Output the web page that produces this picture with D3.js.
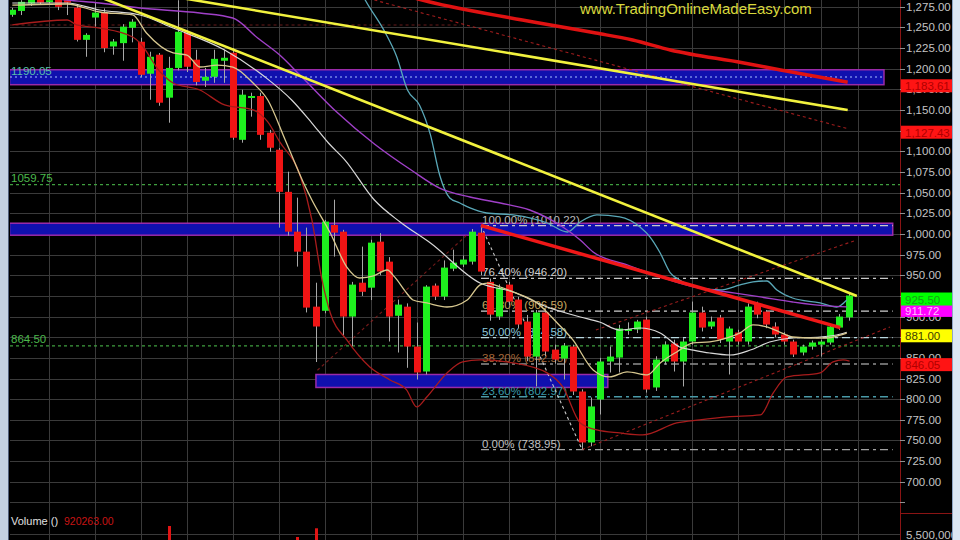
<!DOCTYPE html>
<html><head><meta charset="utf-8">
<script src="https://cdn.jsdelivr.net/npm/d3@7"></script>
<style>
html,body{margin:0;padding:0;background:#000;overflow:hidden}
svg{display:block}
text{font-family:"Liberation Sans",Arial,sans-serif}
</style></head><body>
<svg id="c" width="960" height="540"></svg>
<script>
// ---------- DATA ----------
const opens  = [1265.3,1270,1279,1284,1282,1284,1283,1274,1235,1262,1268,1227,1231,1249.6,1232.7,1194,1217,1165,1201,1243.6,1211,1185.5,1190.3,1209.7,1219.4,1114,1166,1167,1122.6,1102,1051,1002.8,978.6,912,907,1011,1002.8,900,941,935,990.7,966.5,901,912,863.7,833.5,937.5,924.2,958,963,966.5,1001.6,942,900,938.7,920.6,894,851.6,904.9,860,849.2,863.7,809.3,747.6,799.6,845.6,850.4,883,884.3,896.4,814.2,845.6,867.4,845.6,869.8,904.9,888,898.8,869.8,880.7,869.8,914.5,906,888,878.3,869.8,856.5,863.7,866,868.6,886.7,899];
const highs  = [1273.8,1283,1290,1288,1288,1288,1287,1278,1243,1280,1273,1236,1254,1260,1237.5,1220.6,1219,1214.5,1283,1246,1223,1201,1223,1223,1225,1174.6,1171,1171,1126,1104,1075.4,1044,1007.7,941,1017,1041.5,1005,942,984.7,993,1001,972,920.6,916,892.8,938,940,968,981,974,1006,1010.22,946,939,942,924,902,908,909,866,868,866,812,802.1,850,863.7,890,893,896,900,852,870,872,874,918.2,912,900,902,888,884,916,918,908,893,881,872,866,871,872,890,903,928];
const lows   = [1262.9,1265,1276,1278,1279,1271,1265,1233,1214.5,1251,1220,1217,1209.7,1232,1190,1162.5,1155.2,1134.7,1198,1196,1180,1178,1183,1183,1114,1110.5,1142,1114,1099.6,1007.7,998,960.5,905,845,904,972.6,876,864,925,920,950,869.8,856.5,838,823.8,829.9,920,920,955,960,963,950,895,896,914,886,846,815.4,852,843,823.8,805,738.95,743,781.5,832.3,832.3,878,880,808,810,842,833.5,815.4,866,882,885,868,829.9,866,866,898,886,875,866,851,853,860,851.6,866,884,895];
const closes = [1271.4,1281,1286,1280,1283,1275,1280,1235,1241,1268,1225,1233,1251,1257,1192.7,1214.5,1158.9,1201,1244.8,1202.4,1184,1190.3,1212,1213.3,1116.5,1168.6,1167,1120,1104.4,1051,1002.8,978.6,910.9,888,1015,1001.6,900,938.7,930,989.5,954.5,900,914.5,863.7,832.3,936.3,924.2,959.3,965.3,969,1002.8,954.5,902.4,935,918.2,890.4,851.6,904.9,857.7,848,864.9,809.3,747.6,791.2,845.6,851.6,885.5,885,894,811.7,848,866.2,845.6,869.8,904.9,886.7,894,872.2,885.5,869.8,912.1,902.4,890.4,878.3,869.8,854.1,863.7,868.6,869.8,887.9,900,925.5];
const volumes = [3.1e6,2.8e6,2.6e6,2.9e6,2.4e6,3.3e6,2.7e6,4.1e6,3.6e6,3.0e6,4.2e6,3.4e6,3.7e6,3.2e6,4.4e6,4.0e6,4.6e6,6.15e6,4.3e6,3.9e6,3.8e6,3.1e6,3.5e6,2.9e6,4.7e6,4.1e6,3.3e6,4.0e6,3.6e6,4.8e6,4.9e6,5.43e6,4.9e6,6.0e6,4.6e6,3.8e6,4.5e6,3.9e6,3.4e6,3.7e6,3.5e6,4.0e6,3.6e6,4.2e6,4.3e6,4.4e6,3.0e6,3.3e6,2.8e6,2.6e6,3.2e6,3.5e6,3.9e6,3.4e6,3.0e6,3.6e6,4.1e6,4.2e6,3.8e6,3.3e6,3.5e6,4.3e6,4.8e6,4.5e6,4.0e6,3.2e6,3.6e6,2.5e6,3.0e6,4.2e6,3.9e6,3.1e6,3.3e6,3.5e6,3.4e6,3.0e6,2.7e6,3.1e6,3.2e6,2.9e6,3.3e6,2.8e6,3.0e6,2.6e6,2.7e6,3.1e6,2.9e6,2.5e6,2.4e6,3.0e6,3.2e6,920263];
const priceTicks = d3.range(700, 1276, 25);
const hiddenTickLabels = [1125, 925];
const gridIdx = [4,9,14,19,24,29,34,39,44,49,54,59,64,69,74,79,84,88,92];

// indicator lines: [candle index, price]
const maFast  = [[0,1277],[5.95,1278.4],[9.5,1268.7],[13.1,1265.1],[14.6,1243.3],[17.5,1219.1],[19,1216.6],[20.4,1202.1],[22.3,1204.5],[24,1202.1],[26.2,1182.7],[27.8,1162.2],[29.7,1113.8],[31.9,1056.8],[32.6,1041.1],[34.6,1001.1],[36.4,960],[37.8,946.7],[39.3,949.2],[40.8,956.4],[41.6,948],[42.9,928.6],[43.6,920.1],[45.1,916.5],[47.3,911.6],[49.5,920.1],[50.9,938.3],[51.7,940.6],[53.1,935.8],[54.5,929.8],[57.1,916.5],[59.3,892.3],[61,871.7],[63.2,835.4],[65,826.9],[66.9,833],[69.1,829.4],[70.5,843.9],[72.3,857.2],[74.1,868.1],[75.9,869.3],[77.8,874.1],[79.2,880.2],[80.6,889.9],[82.1,887.4],[83.5,881.3],[84.9,875.3],[87.1,874.1],[88.6,874.1],[90.1,877.7],[90.8,880.1]];
const maSlow  = [[0,1279.6],[5.95,1279.6],[9.5,1271.1],[13.9,1265.1],[17.5,1249.3],[23.1,1222.7],[27.5,1190],[30.4,1162.2],[32.6,1134.3],[34.4,1110.1],[36.2,1089.5],[39.4,1041.1],[42.2,1014.5],[45.5,989],[50.9,940.6],[54.5,929.8],[58.2,911.6],[61.8,899.5],[63.9,893.4],[66.1,883.7],[68.3,886.2],[70.5,880.1],[72.6,863.2],[74.1,859.5],[75.9,855.9],[78.1,853.5],[80.3,859.5],[82.4,869.2],[84.9,874.1],[87.9,875.3],[89.7,877.7],[90.8,881]];
const maPurple = [[0,1292],[5.95,1283.2],[9.5,1279.6],[13.9,1273.5],[20.4,1267.5],[24,1261.4],[26.7,1237.2],[29.1,1216.6],[31.3,1192.4],[35.3,1147.6],[39.4,1108.9],[43.4,1077.4],[46.5,1055.6],[49.8,1044.7],[53.1,1037.5],[56.3,1029],[59.9,1008.4],[61.8,992.7],[63.2,978.2],[66.9,962.5],[70.5,948],[74.1,935.9],[77.8,929.8],[81.4,923.8],[84.9,917.7],[88.6,912.9],[90.8,911.72]];
const bandUpper = [[37.3,1307],[38.4,1283.2],[40.6,1243.3],[41.8,1215.4],[43,1174.3],[44.3,1156.2],[45.5,1119.9],[46.5,1071.4],[47.6,1043.6],[48.7,1037.5],[49.8,1031.5],[51.6,1025.4],[54.5,1023],[58.2,1013.3],[60.4,1002.4],[61.8,1014.5],[63.6,1023],[66.1,1020.6],[68.3,1008.4],[69.4,996.3],[70.5,977],[71.6,952.8],[72.6,944.3],[74.8,934.6],[77,932.2],[79.2,938.3],[80.6,941.9],[82.1,943.1],[83.2,932.2],[84.9,922.5],[87.9,916.5],[89.7,911.6],[90.8,920.1]];
const bandLower = [[0,1253],[6,1259],[7,1253],[9.5,1249.3],[13.1,1238.4],[13.9,1231.2],[16.1,1196],[17.5,1182.7],[20.4,1174.3],[23.1,1156.2],[26.2,1150.1],[27.8,1135.6],[29.1,1111.4],[31.3,1071.4],[32.6,1017],[33.7,944.3],[34.6,904.4],[36.4,871.7],[38.9,839],[41.1,823.3],[42.9,811.2],[44,790.6],[45.1,802.7],[47.3,831.8],[49,845.1],[50.9,847.5],[54.5,843.9],[58.2,831.8],[59.9,814.8],[61.8,771.2],[63.6,762.8],[66.1,759.1],[68.6,756.7],[72.3,771.2],[74.8,774.9],[77.8,778.5],[81.4,780.9],[82.8,807.6],[84.3,826.9],[87.9,831.8],[89.3,845.1],[90.4,847.5],[91.1,846.05]];
const maLong = [[40,1298],[44.6,1283.2],[55.5,1259],[63.5,1243.3],[67.5,1234.8],[71.6,1222.7],[79.6,1207],[83.6,1198.5],[90.9,1183.61]];

// trend lines [index, price]
const yellowUpper = [[18,1286.4],[90.9,1150]];
const yellowLower = [[8.8,1290],[91.9,925]];
const redDashUpper = [[39.4,1283.2],[90.9,1127.4]];
const redDashHoriz = [[-0.3,1253],[48.7,1253]];
const redDashLeft = [[33.2,835],[49.8,1002]];
const channelUpper = [[63.5,883.8],[91.9,992.8]];
const channelLower = [[62,738.95],[95.5,887.4]];
const redTrend = [[51,1010.22],[90.1,886.7]];
const fibDiag = [[51,1010.22],[62,738.95]];

// zones [top price, bottom price, start index, end index]
const zones = [[1198.8,1180.7,-0.3,94.85],[1013,998.5,-0.3,95.8],[829.9,814.2,33.04,64.8]];
const zoneMid = [1190.05];
const greenLevels = [1059.75, 864.50];
const greenLabels = ["1059.75","864.50"];

// fibonacci
const fibPct = ["100.00%","76.40%","61.80%","50.00%","38.20%","23.60%","0.00%"];
const fibVal = [1010.22,946.20,906.59,874.58,842.58,802.97,738.95];
const fibColor = ["#b8b8b8","#d0d0d0","#c8a860","#8cc8d8","#a86a3a","#3a9aaa","#c0c0c0"];
const fibLineColor = ["#c8c8c8","#c8c8c8","#d0d0d0","#b8d8e0","#909090","#4a9aa8","#a0a0a0"];

// right-side price markers
const markVal = [1183.61,1127.43,881.00,846.05,911.72,925.50];
const markBg  = ["#ff1414","#ff1414","#ffff00","#ff1414","#ff00ff","#00ff00"];
const markFg  = ["#b00000","#b00000","#404000","#b00000","#ffc0ff","#18a018"];

// ---------- DRAW ----------
const svg = d3.select('#c');
const x = d3.scaleLinear().domain([0,91]).range([12.3,848.6]);
const y = d3.scaleLinear().domain([1275,700]).range([6.8,481.8]);
const yv = d3.scaleLinear().domain([0,7e6]).range([620,513]);

svg.append('rect').attr('width',960).attr('height',540).attr('fill','#000');
const defs = svg.append('defs');
defs.append('clipPath').attr('id','cp').append('rect').attr('x',10).attr('y',0).attr('width',890).attr('height',512);
defs.append('clipPath').attr('id','cv').append('rect').attr('x',10).attr('y',513).attr('width',890).attr('height',27);

// grid
const grid = svg.append('g');
grid.selectAll('line.v').data(gridIdx).join('line')
  .attr('x1',d=>Math.round(x(d))+0.5).attr('x2',d=>Math.round(x(d))+0.5)
  .attr('y1',0).attr('y2',540).attr('stroke','#3a3a3a').attr('stroke-width',1);
grid.selectAll('line.h').data(priceTicks.concat([675])).join('line')
  .attr('x1',10).attr('x2',900)
  .attr('y1',d=>Math.round(y(d))+0.5).attr('y2',d=>Math.round(y(d))+0.5)
  .attr('stroke','#3a3a3a').attr('stroke-width',1);
grid.append('line').attr('x1',10).attr('x2',900)
  .attr('y1',Math.round(yv(5.5e6))-1.5).attr('y2',Math.round(yv(5.5e6))-1.5)
  .attr('stroke','#3a3a3a');

const P = svg.append('g').attr('clip-path','url(#cp)');

// zones
P.selectAll('rect.z').data(zones).join('rect')
  .attr('x',d=>x(d[2])).attr('width',d=>x(d[3])-x(d[2]))
  .attr('y',d=>y(d[0])).attr('height',d=>y(d[1])-y(d[0]))
  .attr('fill','#1010ae').attr('stroke','#9a2aa8').attr('stroke-width',1.5);
P.selectAll('line.zm').data(zoneMid).join('line')
  .attr('x1',10).attr('x2',x(zones[0][3]))
  .attr('y1',d=>y(d)).attr('y2',d=>y(d))
  .attr('stroke','#a8c0ff').attr('stroke-width',1.2).attr('stroke-dasharray','2,3');

// green levels
P.selectAll('line.g').data(greenLevels).join('line')
  .attr('x1',10).attr('x2',900).attr('y1',d=>y(d)).attr('y2',d=>y(d))
  .attr('stroke','#3f9f3f').attr('stroke-width',1.2).attr('stroke-dasharray','3,3');
P.selectAll('text.g').data(greenLevels).join('text')
  .attr('x',11).attr('y',d=>y(d)-3).text((d,i)=>greenLabels[i])
  .attr('fill','#4cb84c').attr('font-size',11.5);
P.append('text').attr('x',11).attr('y',y(zoneMid[0])-2).text('1190.05')
  .attr('fill','#5cc0a8').attr('font-size',11.5);

// fib lines + labels
const fibX0 = x(51), fibX1 = x(95.8);
P.selectAll('line.f').data(fibVal).join('line')
  .attr('x1',fibX0).attr('x2',fibX1).attr('y1',d=>y(d)).attr('y2',d=>y(d))
  .attr('stroke',(d,i)=>fibLineColor[i]).attr('stroke-width',1.3).attr('stroke-dasharray','8,4,3,4');
P.selectAll('text.f').data(fibVal).join('text')
  .attr('x',fibX0+1).attr('y',d=>y(d)-2)
  .text((d,i)=>fibPct[i]+' ('+d3.format('.2f')(d)+')')
  .attr('fill',(d,i)=>fibColor[i]).attr('font-size',11.5);

// dashed trend lines
const ln = d3.line().x(d=>x(d[0])).y(d=>y(d[1]));
[[redDashUpper,'#b02020',0.9],[redDashHoriz,'#802020',0.8],[redDashLeft,'#902020',0.8],[channelUpper,'#a82020',0.9],[channelLower,'#a82020',0.9]].forEach(([d,c,o])=>{
  P.append('path').attr('d',ln(d)).attr('fill','none').attr('stroke',c).attr('stroke-width',1.1)
   .attr('stroke-dasharray','3,3').attr('opacity',o);
});
P.append('path').attr('d',ln(fibDiag)).attr('fill','none').attr('stroke','#c8c8c8').attr('stroke-width',1.1).attr('stroke-dasharray','3,3');

// candles
const idx = d3.range(opens.length);
P.selectAll('line.w').data(idx).join('line')
  .attr('x1',i=>Math.round(x(i))+0.5).attr('x2',i=>Math.round(x(i))+0.5)
  .attr('y1',i=>y(highs[i])).attr('y2',i=>y(lows[i]))
  .attr('stroke','#a8a8a8').attr('stroke-width',1);
P.selectAll('rect.b').data(idx).join('rect')
  .attr('x',i=>Math.round(x(i))-3).attr('width',7)
  .attr('y',i=>y(Math.max(opens[i],closes[i])))
  .attr('height',i=>Math.max(2,Math.abs(y(opens[i])-y(closes[i]))))
  .attr('fill',i=>closes[i]>=opens[i]?'#1ef01e':'#f01414');

// indicator lines
const cl = d3.line().x(d=>x(d[0])).y(d=>y(d[1])).curve(d3.curveMonotoneX);
[[bandLower,'#a81c1c',1.3],[bandUpper,'#5aa8b8',1.3],[maPurple,'#a040c8',1.4],[maSlow,'#d8d8d8',1.2],[maFast,'#d8c890',1.3]].forEach(([d,c,w])=>{
  P.append('path').attr('d',cl(d)).attr('fill','none').attr('stroke',c).attr('stroke-width',w);
});
P.append('path').attr('d',cl(maLong)).attr('fill','none').attr('stroke','#e01212').attr('stroke-width',3.5);
[[yellowUpper,'#f2f23e'],[yellowLower,'#f2f23e']].forEach(([d,c])=>{
  P.append('path').attr('d',ln(d)).attr('fill','none').attr('stroke',c).attr('stroke-width',2.6);
});
P.append('path').attr('d',ln(redTrend)).attr('fill','none').attr('stroke','#f01818').attr('stroke-width',3.5);

// watermark
svg.append('text').attr('x',580).attr('y',14).text('www.TradingOnlineMadeEasy.com')
  .attr('fill','#d8d83c').attr('font-size',15);

// volume pane
const V = svg.append('g').attr('clip-path','url(#cv)');
V.selectAll('rect').data(idx).join('rect')
  .attr('x',i=>Math.round(x(i))-1).attr('width',3)
  .attr('y',i=>yv(volumes[i])).attr('height',i=>620-yv(volumes[i]))
  .attr('fill','#e01414');
svg.append('text').attr('x',11).attr('y',525).text('Volume ()').attr('fill','#e0e0e0').attr('font-size',11);
svg.append('text').attr('x',64).attr('y',525).text(d3.format('.2f')(volumes[volumes.length-1])).attr('fill','#c81414').attr('font-size',10.5);

// right axis
svg.append('rect').attr('x',900).attr('y',0).attr('width',52).attr('height',540).attr('fill','#000');
svg.append('line').attr('x1',900.5).attr('x2',900.5).attr('y1',0).attr('y2',540).attr('stroke','#8a1414').attr('stroke-width',1);
svg.append('line').attr('x1',900).attr('x2',952).attr('y1',513.5).attr('y2',513.5).attr('stroke','#8a1414').attr('stroke-width',1);
const ax = svg.append('g');
ax.selectAll('line').data(priceTicks.concat([675])).join('line')
  .attr('x1',900).attr('x2',905).attr('y1',d=>Math.round(y(d))+0.5).attr('y2',d=>Math.round(y(d))+0.5)
  .attr('stroke','#909090');
ax.selectAll('text').data(priceTicks.filter(t=>!hiddenTickLabels.includes(t))).join('text')
  .attr('x',906).attr('y',d=>y(d)+4).text(d=>d3.format(',.2f')(d))
  .attr('fill','#c4c4c4').attr('font-size',11.5);
svg.append('text').attr('x',906).attr('y',yv(5.5e6)+3).text(d3.format(',')(5500000))
  .attr('fill','#c4c4c4').attr('font-size',11.5);
const mk = svg.append('g');
markVal.forEach((v,i)=>{
  mk.append('rect').attr('x',901).attr('y',y(v)-3).attr('width',51).attr('height',13).attr('fill',markBg[i]);
  mk.append('text').attr('x',905).attr('y',y(v)+8).text(d3.format(',.2f')(v)).attr('fill',markFg[i]).attr('font-size',11.5);
});

// window edges
svg.append('rect').attr('x',0).attr('y',0).attr('width',9).attr('height',540).attr('fill','#c4d2e2');
svg.append('line').attr('x1',8.5).attr('x2',8.5).attr('y1',0).attr('y2',540).attr('stroke','#50607a');
svg.append('rect').attr('x',952).attr('y',0).attr('width',8).attr('height',540).attr('fill','#dce7f3');
svg.append('line').attr('x1',952.5).attr('x2',952.5).attr('y1',0).attr('y2',540).attr('stroke','#8fa6c4');
</script>
</body></html>
